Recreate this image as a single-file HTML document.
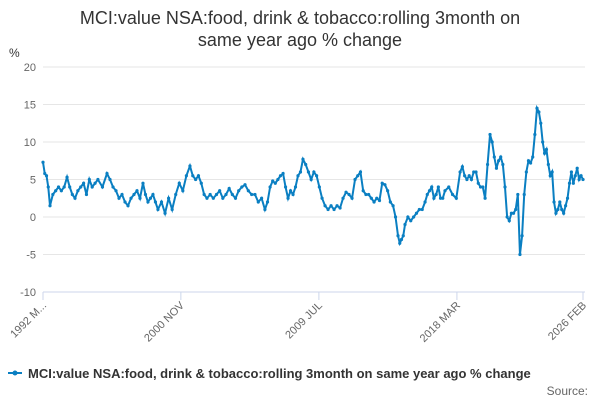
<!DOCTYPE html>
<html><head><meta charset="utf-8"><style>
body{margin:0;background:#fff;font-family:"Liberation Sans",sans-serif;}
#c{position:relative;width:600px;height:400px;overflow:hidden}
</style></head><body><div id="c">
<svg id="s" width="600" height="400">
<text x="300" y="24" text-anchor="middle" font-size="18" fill="#333">MCI:value NSA:food, drink &amp; tobacco:rolling 3month on</text>
<text x="300" y="46" text-anchor="middle" font-size="18" fill="#333">same year ago % change</text>
<text x="9" y="57" font-size="12" fill="#333">%</text>
<g id="grid"></g><g id="xa"></g><g id="series"></g>
<g>
<line x1="8" y1="373" x2="22" y2="373" stroke="#0a7fc2" stroke-width="2"/>
<circle cx="15" cy="373" r="2.5" fill="#0a7fc2"/>
<text x="28" y="378" font-size="13" font-weight="bold" fill="#333">MCI:value NSA:food, drink &amp; tobacco:rolling 3month on same year ago % change</text>
</g>
<text x="588" y="395" text-anchor="end" font-size="12" fill="#666">Source:</text>
</svg></div>
<script>
const yTicks=[20,15,10,5,0,-5,-10];
const xLabels=["1992 M...","2000 NOV","2009 JUL","2018 MAR","2026 FEB"];
const xLabelYears=[1992.17,2000.83,2009.5,2018.17,2026.09];
const values=[7.3,5.8,5.5,4,1.5,3,3.5,4,3.5,4,5.3,4,3,2.5,3.5,4,4.5,3,5,4,4.5,5,4,5.8,5,4,3.5,2.5,3,2,1.5,2.5,3,3.5,2.5,4.5,3,2,2.5,3,2,1,2,0.5,2.5,1,3,4.5,3.5,5.5,6.8,5.5,5,5.5,4.5,3,2.5,3,2.5,3,3.5,2.5,3,3.8,3,2.5,3.5,4,4.3,3.5,3,3,2,2.5,1,2,4,4.8,4.5,5,5.5,5.8,4,2.5,3.5,3,4,5.5,6,7.7,7,6,5,6,5.5,4,2.5,1.5,1,1.5,1,1.5,1.2,2.5,3.3,3,2.5,5,5.5,6,3.5,3,3,2.5,2,2.5,2.2,4.5,4.3,3.5,2,1.5,0,-2.5,-3.5,-3,-2.5,-1,0,-0.5,0,0.5,1,1,2,3,3.5,4,2.5,3,4,2.5,2.5,3.5,4,3,2.5,6,6.7,5.5,5,5.5,5,6,6,4.5,4,4,2.5,7,11,10,8,6.5,7.5,8,7,4,0,-0.5,0.5,0.5,1,3,-5,-2.5,3,6,7.5,7.2,8,11,14.5,14,12.5,10,8.5,9,7,5.5,6,2,0.5,1,2,1,0.5,1.5,2.5,4.5,6,4.5,5.5,6.5,5,5.5,5];
// observation dates (decimal years) known at anchor observations
const anchorIdx=[0,4,10,13,21,23,30,35,41,50,56,68,74,81,89,96,107,121,123,127,134,143,147,158,160,167,174,182,192,206];
const anchorYear=[1992.17,1992.61,1993.68,1994.18,1995.62,1996.19,1997.51,1998.45,1999.39,2001.40,2002.47,2004.86,2006.11,2007.25,2008.50,2009.70,2011.77,2014.16,2014.47,2014.91,2016.17,2017.42,2018.37,2019.94,2020.25,2021.19,2022.13,2023.20,2024.39,2026.09];
const dates=values.map((v,i)=>{let k=0;while(k<anchorIdx.length-2&&anchorIdx[k+1]<i)k++;const a=anchorIdx[k],b=anchorIdx[k+1];return anchorYear[k]+(i-a)/(b-a)*(anchorYear[k+1]-anchorYear[k]);});
const X0=43,X1=583,Y0=67,Y1=292,T0=1992.17,T1=2026.09;
const yS=v=>Y0+(20-v)*(Y1-Y0)/30;
const xS=t=>X0+(t-T0)*(X1-X0)/(T1-T0);
const NS="http://www.w3.org/2000/svg";
function mk(t,a,p){const e=document.createElementNS(NS,t);for(const k in a)e.setAttribute(k,a[k]);p.appendChild(e);return e;}
const g=document.getElementById('grid');
yTicks.forEach(v=>{
 const l=mk('line',{x1:X0,x2:X1+2,y1:yS(v),y2:yS(v),stroke:v===-10?'#ccd6eb':'#e6e6e6'},g);
 
 
 const t=mk('text',{x:36,y:yS(v)+4,'text-anchor':'end','font-size':11,fill:'#666'},g);
 
 
 t.textContent=v;
});
const xa=document.getElementById('xa');
xLabels.forEach((s,i)=>{
 const x=xS(xLabelYears[i]);
 const tk=mk('line',{x1:x,x2:x,y1:Y1,y2:Y1+8,stroke:'#ccd6eb'},xa);
 
 
 const t=mk('text',{x:x+4,y:Y1+14,'text-anchor':'end','font-size':11,fill:'#666',transform:`rotate(-45 ${x+4} ${Y1+14})`},xa);
 
 
 t.textContent=s;
});
const sg=document.getElementById('series');
const p=mk('polyline',{points:values.map((v,i)=>xS(dates[i])+','+yS(v)).join(' '),fill:'none',stroke:'#0a7fc2','stroke-width':2},sg);


values.forEach((v,i)=>{
 const c=mk('circle',{cx:xS(dates[i]),cy:yS(v),r:1.6,fill:'#0a7fc2'},sg);
 
 
});
</script></body></html>
